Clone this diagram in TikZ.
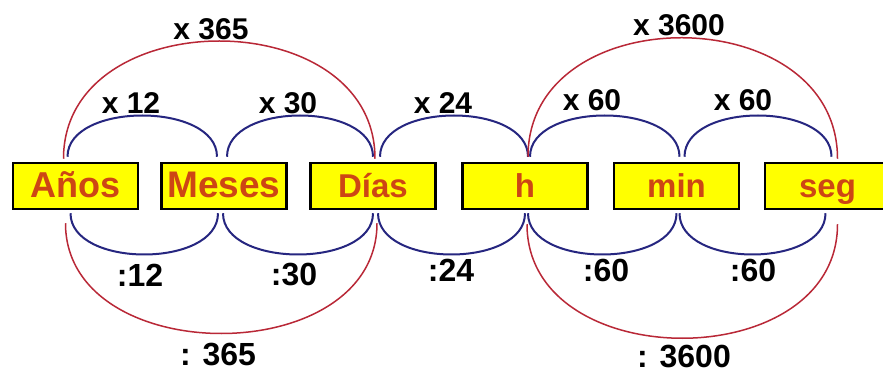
\documentclass[tikz,border=0pt]{standalone}
\usepackage{fontspec}
\setmainfont{Liberation Sans}
\usepackage{xcolor}
\usetikzlibrary{calc}

\definecolor{boxyellow}{RGB}{255,255,0}
\definecolor{unitred}{RGB}{205,70,20}
\definecolor{arcblue}{RGB}{38,38,128}
\definecolor{arcred}{RGB}{185,40,55}

\begin{document}
\begin{tikzpicture}[
  x=1pt, y=1pt,
  font=\bfseries,
  unitbox/.style = {draw=black, line width=2.5pt, fill=boxyellow,
                    minimum width=125pt, minimum height=46pt, inner sep=0pt,
                    text=unitred, font=\fontsize{33}{36}\selectfont\bfseries,
                    text height=24pt, text depth=0pt},
  blu/.style  = {arcblue, line width=2pt},
  rd/.style   = {arcred, line width=1.5pt},
  mul/.style  = {font=\fontsize{30}{32}\selectfont\bfseries},
  dvd/.style  = {font=\fontsize{32}{34}\selectfont\bfseries},
]

\useasboundingbox (0,0) rectangle (883,375);
\fill[white] (0,0) rectangle (883,375);

%% ── Units ───────────────────────────────────────────────────────────────────
\node[unitbox, font=\fontsize{36}{38}\selectfont\bfseries] (anos) at (75.5,189) {Años};
\node[unitbox, font=\fontsize{37}{40}\selectfont\bfseries] (meses) at (224,189) {Meses};
\node[unitbox] (dias)  at (373,189)   {Días};
\node[unitbox] (h)     at (525,189)   {h};
\node[unitbox] (min)   at (676.5,189) {min};
\node[unitbox] (seg)   at (827.5,189) {seg};

%% ── Upper arcs: multiply ────────────────────────────────────────────────────
\draw[blu] ([shift={(-8,5)}]anos.north) .. controls +(0,55) and +(0,55) .. ([shift={(-7,5)}]meses.north);
\draw[blu] ([shift={(3,5)}]meses.north) .. controls +(0,55) and +(0,55) .. ([shift={(0,5)}]dias.north);
\draw[blu] ([shift={(7,5)}]dias.north)  .. controls +(0,55) and +(0,55) .. ([shift={(3,5)}]h.north);
\draw[blu] ([shift={(5,5)}]h.north)     .. controls +(0,55) and +(0,55) .. ([shift={(3,5)}]min.north);
\draw[blu] ([shift={(8,5)}]min.north)   .. controls +(0,55) and +(0,55) .. ([shift={(4,5)}]seg.north);

\draw[rd] ([shift={(-12,3)}]anos.north) .. controls +(0,157) and +(0,157) .. ([shift={(2,3)}]dias.north);
\draw[rd] ([shift={(3,5)}]h.north)      .. controls +(0,160) and +(0,160) .. ([shift={(10,3)}]seg.north);

\node[mul] (m12)   at (131,272) {x 12};
\node[mul] (m30)   at (288,272) {x 30};
\node[mul] (m24)   at (443,272) {x 24};
\node[mul] (m60a)  at (592,275) {x 60};
\node[mul] (m60b)  at (743,275) {x 60};
\node[mul] (m365)  at (211,346) {x 365};
\node[mul] (m3600) at (679,350) {x 3600};

%% ── Lower arcs: divide ──────────────────────────────────────────────────────
\draw[blu] ([shift={(-5,-3)}]anos.south) .. controls +(0,-55) and +(0,-55) .. ([shift={(-6,-3)}]meses.south);
\draw[blu] ([shift={(-1,-3)}]meses.south) .. controls +(0,-55) and +(0,-55) .. ([shift={(0,-3)}]dias.south);
\draw[blu] ([shift={(5,-3)}]dias.south)  .. controls +(0,-55) and +(0,-55) .. ([shift={(0,-3)}]h.south);
\draw[blu] ([shift={(3,-3)}]h.south)     .. controls +(0,-55) and +(0,-55) .. ([shift={(0,-3)}]min.south);
\draw[blu] ([shift={(3,-3)}]min.south)   .. controls +(0,-55) and +(0,-55) .. ([shift={(-2,-3)}]seg.south);

\draw[rd] ([shift={(-10,-13)}]anos.south) .. controls +(0,-147) and +(0,-147) .. ([shift={(4,-13)}]dias.south);
\draw[rd] ([shift={(2,-14)}]h.south)      .. controls +(0,-152) and +(0,-152) .. ([shift={(10,-14)}]seg.south);

\node[dvd] (d12)   at (140,100) {:12};
\node[dvd] (d30)   at (294,100) {:30};
\node[dvd] (d24)   at (451,105) {:24};
\node[dvd] (d60a)  at (606,105) {:60};
\node[dvd] (d60b)  at (753,105) {:60};
\node[dvd] (d365)  at (218,20)  {: 365};
\node[dvd] (d3600) at (684,18)  {: 3600};

\end{tikzpicture}
\end{document}
